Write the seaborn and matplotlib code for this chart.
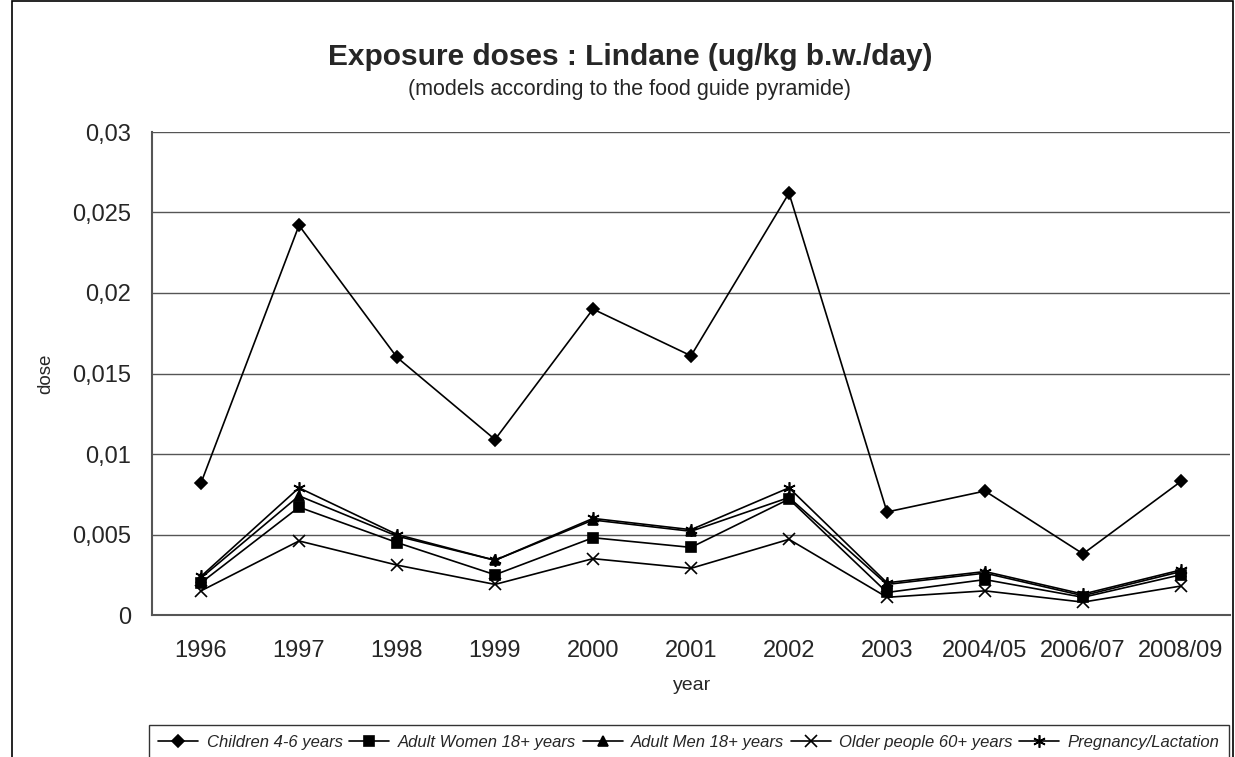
import seaborn as sns
import matplotlib.pyplot as plt
import pandas as pd
from matplotlib.ticker import FuncFormatter, FixedLocator

years = ['1996', '1997', '1998', '1999', '2000', '2001', '2002', '2003',
         '2004/05', '2006/07', '2008/09']
children = [0.0082, 0.0242, 0.0160, 0.0109, 0.0190, 0.0161, 0.0262, 0.0064, 0.0077, 0.0038, 0.0083]
women = [0.0020, 0.0067, 0.0045, 0.0025, 0.0048, 0.0042, 0.0072, 0.0014, 0.0022, 0.0011, 0.0025]
men = [0.0023, 0.0074, 0.0049, 0.0034, 0.0059, 0.0052, 0.0073, 0.0019, 0.0026, 0.0012, 0.0027]
older = [0.0015, 0.0046, 0.0031, 0.0019, 0.0035, 0.0029, 0.0047, 0.0011, 0.0015, 0.0008, 0.0018]
pregnancy = [0.0024, 0.0079, 0.0050, 0.0034, 0.0060, 0.0053, 0.0079, 0.0020, 0.0027, 0.0013, 0.0028]

series = {
    'Children 4-6 years': children,
    'Adult Women 18+ years': women,
    'Adult Men 18+ years': men,
    'Older people 60+ years': older,
    'Pregnancy/Lactation': pregnancy,
}
markers = {
    'Children 4-6 years': 'D',
    'Adult Women 18+ years': 's',
    'Adult Men 18+ years': '^',
    'Older people 60+ years': 'x',
    'Pregnancy/Lactation': (6, 2, 0),
}
sizes = {'D': 6, 's': 6.5, '^': 7, 'x': 8, (6, 2, 0): 9}

df = pd.DataFrame([(y, name, v) for name, vals in series.items() for y, v in zip(years, vals)],
                  columns=['year', 'group', 'dose'])

sns.set_style('white')
plt.rcParams['font.family'] = ['Liberation Sans', 'DejaVu Sans']

W, H = 1235, 757
fig = plt.figure(figsize=(W / 100, H / 100), dpi=100)
ax = fig.add_axes([152 / W, 1 - 615 / H, (1230 - 152) / W, (615 - 132) / H])

for name in series:
    m = markers[name]
    sns.lineplot(data=df[df.group == name], x='year', y='dose', ax=ax, color='black',
                 marker=m, markersize=sizes[m], markeredgecolor='black', markerfacecolor='black',
                 markeredgewidth=1.2, linewidth=1.2, label=name, sort=False)

ax.set_xlim(-0.5, len(years) - 0.5)
ax.set_ylim(0, 0.03)
ax.set_yticks([0, 0.005, 0.01, 0.015, 0.02, 0.025, 0.03])
ax.yaxis.set_major_formatter(FuncFormatter(lambda v, p: ('%g' % round(v, 4)).replace('.', ',')))
ax.grid(axis='y', color='#555555', linewidth=1)
ax.set_axisbelow(True)
for s in ['top', 'right']:
    ax.spines[s].set_visible(False)
for s in ['left', 'bottom']:
    ax.spines[s].set_color('#555555')
    ax.spines[s].set_linewidth(1.5)

ax.tick_params(axis='x', which='major', length=0, labelsize=17, pad=18)
ax.xaxis.set_minor_locator(FixedLocator([i - 0.5 for i in range(len(years) + 1)]))
ax.tick_params(axis='x', which='minor', length=6, color='#555555', width=1.2, direction='out')
ax.tick_params(axis='y', length=6, color='#555555', width=1.2, direction='out', labelsize=17, pad=9)

ax.set_xlabel('year', fontsize=14, va='center')
ax.xaxis.set_label_coords(0.5 - (1230 + 152 - 2 * 692) / 2 / 1078, (615 - 686) / 483)
ax.set_ylabel('dose', fontsize=13.5, va='center')
ax.yaxis.set_label_coords((46 - 152) / 1078, 0.5)

fig.text(630 / W, 1 - 57 / H, 'Exposure doses : Lindane (ug/kg b.w./day)', ha='center', va='center',
         fontsize=21.5, fontweight='bold')
fig.text(630 / W, 1 - 90 / H, '(models according to the food guide pyramide)', ha='center', va='center',
         fontsize=15.5)

leg = ax.legend(loc='center', bbox_to_anchor=(689 / W, 1 - 742 / H), bbox_transform=fig.transFigure,
                ncol=5, frameon=True, fancybox=False, edgecolor='black', prop={'style': 'italic', 'size': 12},
                handlelength=2.4, columnspacing=0.4, handletextpad=0.5, borderpad=0.55)
leg.get_frame().set_linewidth(1.0)

# outer chart border
fig.patches.append(plt.Rectangle((12 / W, -0.01), (1233 - 12) / W, 1.01 - 1 / H, transform=fig.transFigure,
                                 fill=False, edgecolor='black', linewidth=1.2))

fig.savefig('out.png', dpi=100)
